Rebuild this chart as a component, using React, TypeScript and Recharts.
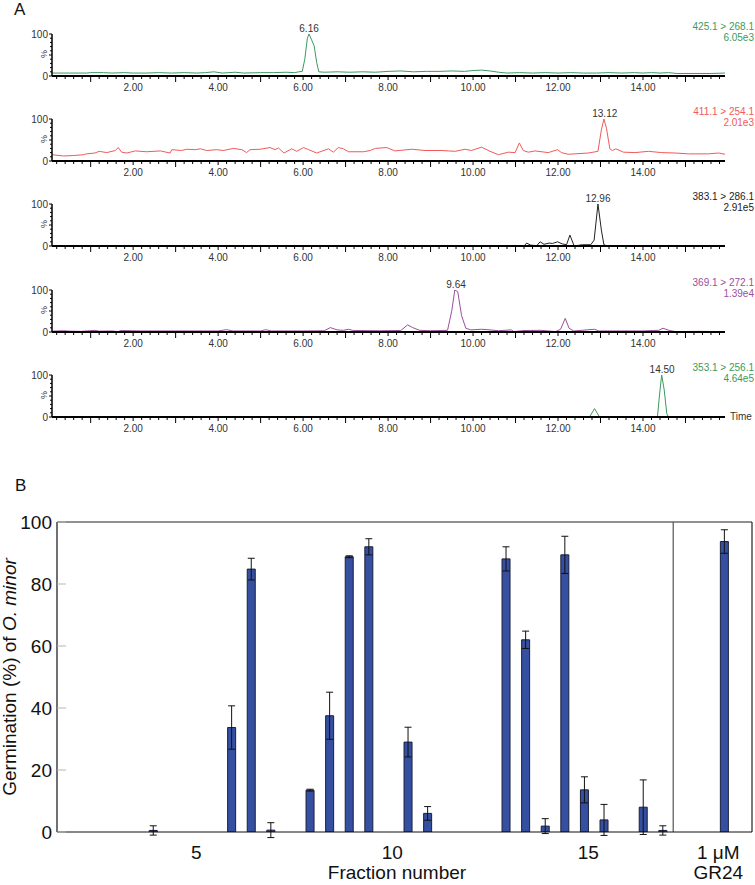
import React from 'react';
import {
  LineChart,
  Line,
  XAxis,
  YAxis,
  ReferenceDot,
  BarChart,
  Bar,
  ErrorBar,
  ReferenceLine,
} from 'recharts';

const FONT = '"Liberation Sans", Arial, Helvetica, sans-serif';

// ---- panel A: MRM traces, [time (min), relative intensity (%)] ----
const trace425: [number, number][] = [
  [0.09, 7], [0.5, 7], [0.9, 7], [1.0, 8], [1.3, 8], [1.5, 7], [1.8, 8], [2.0, 7],
  [2.3, 7], [2.6, 8], [2.9, 7], [3.2, 8], [3.5, 7], [3.7, 8], [3.9, 10], [4.1, 7],
  [4.4, 9], [4.6, 7], [5.0, 8], [5.3, 8], [5.6, 9], [5.8, 8], [5.9, 10], [5.98, 11],
  [6.04, 40], [6.1, 90], [6.14, 100], [6.2, 86], [6.26, 72], [6.32, 32], [6.37, 10],
  [6.5, 9], [6.8, 10], [7.1, 9], [7.4, 10], [7.7, 9], [8.0, 11], [8.3, 12], [8.6, 10],
  [8.9, 11], [9.2, 11], [9.5, 12], [9.8, 11], [10.0, 13], [10.2, 14], [10.4, 12],
  [10.6, 9], [10.8, 7], [11.1, 8], [11.4, 7], [11.7, 8], [12.0, 7], [12.3, 8], [12.6, 7],
  [12.9, 7], [13.2, 8], [13.5, 7], [13.8, 8], [14.0, 7], [14.2, 8], [14.4, 7], [14.6, 8],
  [14.8, 6], [15.2, 6], [15.6, 6], [15.93, 7],
];

const trace411: [number, number][] = [
  [0.09, 15], [0.36, 12], [0.6, 13], [0.83, 15], [0.9, 17], [1.1, 19], [1.2, 23], [1.38, 20],
  [1.58, 25], [1.65, 32], [1.73, 21], [1.85, 19], [2.05, 24], [2.32, 22], [2.64, 24], [2.87, 19],
  [2.91, 27], [3.14, 25], [3.26, 28], [3.46, 27], [3.58, 29], [3.73, 25], [3.97, 27], [4.12, 25],
  [4.36, 30], [4.56, 27], [4.67, 20], [4.75, 27], [4.99, 28], [5.22, 32], [5.34, 27], [5.42, 31],
  [5.55, 19], [5.73, 29], [5.85, 23], [6.01, 32], [6.13, 27], [6.32, 19], [6.6, 29], [6.71, 21],
  [6.83, 32], [6.95, 29], [7.07, 22], [7.42, 22], [7.58, 25], [7.7, 30], [7.97, 32], [8.16, 24],
  [8.56, 28], [8.87, 25], [9.27, 25], [9.58, 23], [9.81, 28], [9.96, 25], [10.2, 33], [10.4, 23],
  [10.6, 15], [10.83, 21], [10.99, 20], [11.09, 43], [11.18, 25], [11.3, 21], [11.46, 24],
  [11.77, 20], [11.99, 27], [12.08, 20], [12.24, 16], [12.71, 19], [12.94, 23], [13.02, 74],
  [13.08, 100], [13.14, 78], [13.22, 29], [13.28, 25], [13.36, 29], [13.54, 21], [13.81, 20],
  [14.13, 23], [14.44, 20], [14.76, 19], [15.07, 17], [15.54, 17], [15.78, 19], [15.93, 16],
];

const trace383: [number, number][] = [
  [0.09, 0], [11.2, 0], [11.26, 7], [11.36, 2], [11.5, 1], [11.58, 10], [11.67, 4], [11.79, 7],
  [11.87, 6], [11.99, 10], [12.1, 5], [12.2, 3], [12.28, 26], [12.38, 0], [12.57, 3], [12.77, 3],
  [12.85, 14], [12.94, 100], [13.02, 38], [13.08, 3], [13.16, 0], [15.93, 0],
];

const trace369: [number, number][] = [
  [0.09, 2], [0.36, 3], [0.5, 2], [0.78, 1.5], [1.1, 4], [1.2, 2], [1.5, 2.5], [1.65, 1],
  [1.7, 3.5], [2.2, 2.5], [3.0, 2.5], [4.0, 2.5], [4.2, 5.5], [4.35, 2.5], [5.0, 2.5],
  [5.12, 5.5], [5.25, 2.5], [6.0, 2.5], [6.5, 3], [6.64, 10.5], [6.8, 5], [6.95, 4],
  [7.07, 6.5], [7.18, 3.5], [7.8, 3], [8.3, 3.5], [8.46, 17], [8.58, 10.5], [8.74, 4],
  [9.0, 3], [9.4, 4], [9.5, 51], [9.57, 100], [9.64, 96], [9.73, 39], [9.83, 9], [9.95, 5],
  [10.2, 6.5], [10.4, 5], [10.6, 3], [10.9, 5], [10.96, 1], [11.2, 3.5], [11.6, 4], [11.94, 1],
  [12.06, 6.5], [12.17, 32.5], [12.26, 9], [12.37, 2.5], [12.86, 6.5], [12.96, 2.5], [13.5, 2.5],
  [13.98, 2.5], [14.37, 4], [14.47, 9], [14.61, 4], [14.76, 1], [15.3, 1.5], [15.93, 1],
];

const trace353: [number, number][] = [
  [0.09, 0], [12.74, 0], [12.86, 20], [12.97, 1], [14.34, 0], [14.4, 64], [14.44, 100],
  [14.5, 64], [14.56, 8], [14.6, 0], [15.93, 0],
];

const transitions = ['425.1 > 268.1', '411.1 > 254.1', '383.1 > 286.1', '369.1 > 272.1', '353.1 > 256.1'];
const intensities = ['6.05e3', '2.01e3', '2.91e5', '1.39e4', '4.64e5'];
const peakTimes = [6.14, 13.1, 12.94, 9.6, 14.45];
const peakLabels = ['6.16', '13.12', '12.96', '9.64', '14.50'];
const traceColors = ['#3b9a5d', '#f05a5c', '#222222', '#9b4f9b', '#3b9a5d'];
const allTraces = [trace425, trace411, trace383, trace369, trace353];
// y pixel of the 100% level for each stacked trace
const traceTops = [34, 119, 204, 290, 375];

const T0 = 0.09;
const T1 = 15.93;
const timeTicks = Array.from({ length: 79 }, (_, i) => +(0.2 * (i + 1)).toFixed(1));
const pctTicks = [0, 10, 20, 30, 40, 50, 60, 70, 80, 90, 100];

// ---- panel B: germination per fraction ----
const fractionPos = [4, 6, 6.5, 7, 8, 8.5, 9, 9.5, 10.5, 11, 13, 13.5, 14, 14.5, 15, 15.5, 16.5, 17];
const germination = [0.5, 33.7, 84.8, 0.6, 13.5, 37.5, 88.8, 92, 29, 6, 88.1, 62, 1.9, 89.4, 13.6, 3.9, 8, 0.5];
const germinationSem = [1.5, 7, 3.5, 2.4, 0.3, 7.6, 0.3, 2.6, 4.8, 2.2, 3.9, 2.8, 2.4, 6, 4.2, 5, 8.8, 1.5];
const gr24Pos = 18.57;
const gr24Value = 93.7;
const gr24Sem = 3.8;
const fractionTicks = [5, 10, 15];
const gr24TickPos = 18.42;
const germTicks = [0, 20, 40, 60, 80, 100];

const barData = fractionPos
  .map((f, i) => ({ f, g: germination[i], sem: germinationSem[i] }))
  .concat([{ f: gr24Pos, g: gr24Value, sem: gr24Sem }]);

function TimeTick(props: any) {
  const { x, y, payload } = props;
  const v = payload.value;
  const r = Math.round(v);
  const isInt = Math.abs(v - r) < 1e-6;
  const len = isInt ? (r % 2 === 1 ? 6 : 4) : 3;
  return (
    <g>
      <line x1={x} y1={y} x2={x} y2={y + len} stroke="#000" strokeWidth={1} />
      {isInt && r % 2 === 0 && (
        <text x={x} y={y + 14.5} textAnchor="middle" fontSize={10} fill="#333" fontFamily={FONT}>
          {r.toFixed(2)}
        </text>
      )}
    </g>
  );
}

function PctTick(props: any) {
  const { x, y, payload } = props;
  const v = payload.value;
  const len = v % 50 === 0 ? 3 : 2;
  return (
    <g>
      <line x1={x} y1={y} x2={x - len} y2={y} stroke="#000" strokeWidth={1} />
      {(v === 0 || v === 100) && (
        <text x={x - 4} y={y + 3.5} textAnchor="end" fontSize={10} fill="#333" fontFamily={FONT}>
          {v}
        </text>
      )}
      {v === 50 && (
        <text
          x={x - 5}
          y={y - 1}
          textAnchor="middle"
          fontSize={9}
          fill="#333"
          fontFamily={FONT}
          transform={`rotate(-90 ${x - 5} ${y - 1})`}
        >
          %
        </text>
      )}
    </g>
  );
}

function FractionTick(props: any) {
  const { x, y, payload } = props;
  const v = payload.value;
  if (v === gr24TickPos) {
    return (
      <g fontFamily={FONT} fontSize={19} fill="#111">
        <text x={x} y={y + 27} textAnchor="middle">1 μM</text>
        <text x={x} y={y + 47} textAnchor="middle">GR24</text>
      </g>
    );
  }
  return (
    <text x={x + 4} y={y + 27} textAnchor="middle" fontFamily={FONT} fontSize={19} fill="#111">
      {v}
    </text>
  );
}

function GermTick(props: any) {
  const { x, y, payload } = props;
  return (
    <g>
      <line x1={x} y1={y} x2={x + 9} y2={y} stroke="#b5b5b5" strokeWidth={1} />
      <text x={x - 5} y={y + 7} textAnchor="end" fontFamily={FONT} fontSize={19} fill="#111">
        {payload.value}
      </text>
    </g>
  );
}

function TracePanel({ idx }: { idx: number }) {
  const data = allTraces[idx].map(([t, v]) => ({ t, v }));
  const top = traceTops[idx];
  const color = traceColors[idx];
  return (
    <>
      <div style={{ position: 'absolute', left: 0, top: top - 14 }}>
        <LineChart width={755} height={76} data={data} margin={{ top: 14, right: 30, bottom: 0, left: 22 }}>
          <XAxis
            type="number"
            dataKey="t"
            domain={[T0, T1]}
            ticks={timeTicks}
            interval={0}
            tickSize={0}
            tickMargin={0}
            tickLine={false}
            tick={(p: any) => <TimeTick {...p} />}
            axisLine={{ stroke: '#000', strokeWidth: 2 }}
            height={20}
            allowDataOverflow
          />
          <YAxis
            type="number"
            domain={[0, 100]}
            ticks={pctTicks}
            interval={0}
            width={30}
            tickSize={0}
            tickMargin={0}
            tickLine={false}
            tick={(p: any) => <PctTick {...p} />}
            axisLine={{ stroke: '#000', strokeWidth: 1.5 }}
            allowDataOverflow
          />
          <Line
            type="linear"
            dataKey="v"
            stroke={color}
            strokeWidth={1}
            dot={false}
            isAnimationActive={false}
          />
          <ReferenceDot
            x={peakTimes[idx]}
            y={100}
            r={0}
            fill="none"
            stroke="none"
            label={{ value: peakLabels[idx], position: 'top', offset: 2, fontSize: 10, fill: '#333', fontFamily: FONT }}
          />
        </LineChart>
      </div>
      <div
        style={{
          position: 'absolute',
          left: 0,
          width: 754,
          top: top - 13.25,
          textAlign: 'right',
          fontSize: 10,
          lineHeight: '11.5px',
          color,
          fontFamily: FONT,
        }}
      >
        <div>{transitions[idx]}</div>
        <div>{intensities[idx]}</div>
      </div>
    </>
  );
}

export default function App() {
  return (
    <div
      style={{
        position: 'absolute',
        left: 0,
        top: 0,
        width: 755,
        height: 885,
        background: '#fff',
        fontFamily: FONT,
        overflow: 'hidden',
      }}
    >
      <div style={{ position: 'absolute', left: 14, top: 0, fontSize: 17, lineHeight: '20px', color: '#111' }}>A</div>
      {traceTops.map((_, i) => (
        <TracePanel key={i} idx={i} />
      ))}
      <div style={{ position: 'absolute', left: 730, top: 411, fontSize: 10, lineHeight: '11.5px', color: '#333' }}>
        Time
      </div>

      <div style={{ position: 'absolute', left: 15, top: 476, fontSize: 17, lineHeight: '20px', color: '#111' }}>B</div>
      <div style={{ position: 'absolute', left: 0, top: 480 }}>
        <BarChart width={755} height={405} data={barData} margin={{ top: 42, right: 3, bottom: 0, left: 7 }}>
          <XAxis
            type="number"
            dataKey="f"
            domain={[1.55, 19.28]}
            ticks={[...fractionTicks, gr24TickPos]}
            interval={0}
            tickSize={0}
            tickMargin={0}
            tickLine={false}
            tick={(p: any) => <FractionTick {...p} />}
            axisLine={{ stroke: '#111', strokeWidth: 1.2 }}
            height={53}
            allowDataOverflow
            label={{
              content: () => (
                <text x={397} y={399} textAnchor="middle" fontFamily={FONT} fontSize={19} fill="#111">
                  Fraction number
                </text>
              ),
            }}
          />
          <YAxis
            type="number"
            domain={[0, 100]}
            ticks={germTicks}
            interval={0}
            width={50}
            tickSize={0}
            tickMargin={0}
            tickLine={false}
            tick={(p: any) => <GermTick {...p} />}
            axisLine={{ stroke: '#111', strokeWidth: 1.2 }}
            allowDataOverflow
            label={{
              content: () => (
                <text
                  x={15.5}
                  y={197}
                  textAnchor="middle"
                  fontFamily={FONT}
                  fontSize={19}
                  fill="#111"
                  transform="rotate(-90 15.5 197)"
                >
                  Germination (%) of <tspan fontStyle="italic">O. minor</tspan>
                </text>
              ),
            }}
          />
          <ReferenceLine y={100} stroke="#222" strokeWidth={1.2} />
          <ReferenceLine x={19.28} stroke="#222" strokeWidth={1.2} />
          <ReferenceLine x={17.27} stroke="#555" strokeWidth={1.2} />
          <Bar dataKey="g" fill="#3550a0" stroke="#1b1f3a" strokeWidth={1} barSize={8} isAnimationActive={false}>
            <ErrorBar dataKey="sem" width={3.5} stroke="#111" strokeWidth={1} direction="y" />
          </Bar>
        </BarChart>
      </div>
    </div>
  );
}
